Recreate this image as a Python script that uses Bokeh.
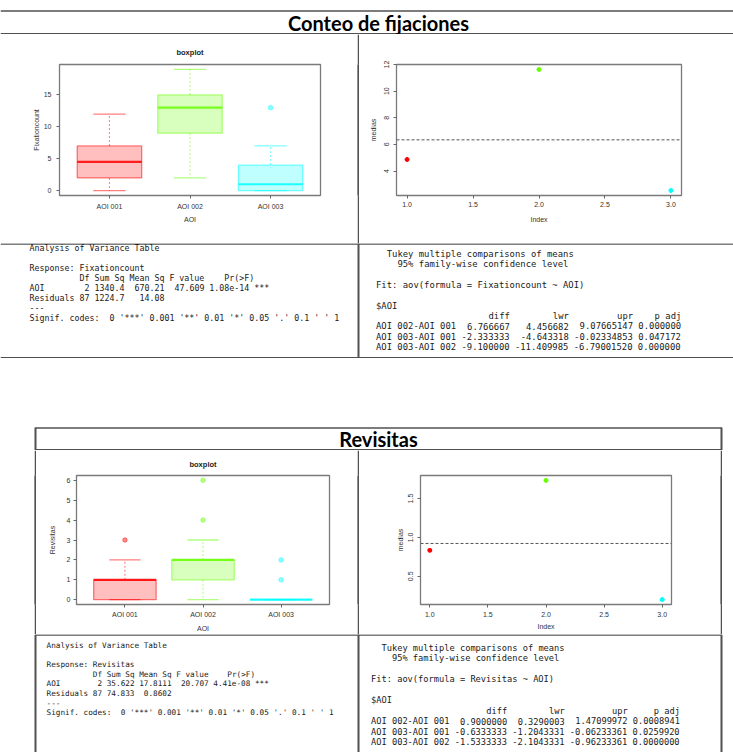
import re
from bokeh.plotting import figure
from bokeh.layouts import row, column
from bokeh.models import Range1d, FixedTicker, Span, Spacer, NumeralTickFormatter
from bokeh.core.properties import value
from bokeh.embed import file_html
from bokeh.resources import INLINE

# ---------------- data ----------------
aoi_labels = ["AOI 001", "AOI 002", "AOI 003"]
aoi_pos = [1, 2, 3]
group_colors = ["#FF0000", "#66FF00", "#00FFFF"]

# Fixationcount boxplot stats
fix_low = [0, 2, 0]
fix_q1 = [2, 9, 0]
fix_med = [4.5, 13, 1]
fix_q3 = [7, 15, 4]
fix_high = [12, 19, 7]
fix_out_x = [3]
fix_out_y = [13]
fix_yticks = [0, 5, 10, 15]

# Revisitas boxplot stats
rev_low = [0, 0, 0]
rev_q1 = [0, 1, 0]
rev_med = [1, 2, 0]
rev_q3 = [1, 2, 0]
rev_high = [2, 3, 0]
rev_out_x = [1, 2, 2, 3, 3]
rev_out_y = [3, 4, 6, 1, 2]
rev_yticks = [0, 1, 2, 3, 4, 5, 6]

# group means plots
index_vals = [1, 2, 3]
index_ticks = [1.0, 1.5, 2.0, 2.5, 3.0]
fix_means = [4.866667, 11.633333, 2.533333]
fix_grand = 6.344444
fix_mean_yticks = [4, 6, 8, 10, 12]
rev_means = [0.833333, 1.733333, 0.2]
rev_grand = 0.922222
rev_mean_yticks = [0.5, 1.0, 1.5]

# console outputs
fix_anova = [
    "Analysis of Variance Table",
    "",
    "Response: Fixationcount",
    "          Df Sum Sq Mean Sq F value    Pr(>F)",
    "AOI        2 1340.4  670.21  47.609 1.08e-14 ***",
    "Residuals 87 1224.7   14.08",
    "---",
    "Signif. codes:  0 '***' 0.001 '**' 0.01 '*' 0.05 '.' 0.1 ' ' 1",
]
fix_tukey = [
    "  Tukey multiple comparisons of means",
    "    95% family-wise confidence level",
    "",
    "Fit: aov(formula = Fixationcount ~ AOI)",
    "",
    "$AOI",
    "                     diff        lwr         upr    p adj",
    "AOI 002-AOI 001  6.766667   4.456682  9.07665147 0.000000",
    "AOI 003-AOI 001 -2.333333  -4.643318 -0.02334853 0.047172",
    "AOI 003-AOI 002 -9.100000 -11.409985 -6.79001520 0.000000",
]
rev_anova = [
    "Analysis of Variance Table",
    "",
    "Response: Revisitas",
    "          Df Sum Sq Mean Sq F value    Pr(>F)",
    "AOI        2 35.622 17.8111  20.707 4.41e-08 ***",
    "Residuals 87 74.833  0.8602",
    "---",
    "Signif. codes:  0 '***' 0.001 '**' 0.01 '*' 0.05 '.' 0.1 ' ' 1",
]
rev_tukey = [
    "  Tukey multiple comparisons of means",
    "    95% family-wise confidence level",
    "",
    "Fit: aov(formula = Revisitas ~ AOI)",
    "",
    "$AOI",
    "                      diff        lwr         upr     p adj",
    "AOI 002-AOI 001  0.9000000  0.3290003  1.47099972 0.0008941",
    "AOI 003-AOI 001 -0.6333333 -1.2043331 -0.06233361 0.0259920",
    "AOI 003-AOI 002 -1.5333333 -2.1043331 -0.96233361 0.0000000",
]

# ---------------- styling helpers ----------------
BORDER = "#505050"
AXC = "#333333"
SANS = "Liberation Sans"
MONO = "DejaVu Sans Mono"


def sheet(x0, x1, y0, y1):
    p = figure(width=x1 - x0, height=y1 - y0, x_range=Range1d(x0, x1),
               y_range=Range1d(y1, y0), toolbar_location=None, output_backend="svg",
               min_border=0, x_axis_location=None, y_axis_location=None,
               outline_line_color=None)
    p.grid.visible = False
    return p


def hline(p, y, x0, x1, w=1.5):
    p.segment(x0=[x0], y0=[y], x1=[x1], y1=[y], line_color=BORDER, line_width=w)


def vline_seg(p, x, y0, y1, w=2):
    p.segment(x0=[x], y0=[y0], x1=[x], y1=[y1], line_color=BORDER, line_width=w)


def console(p, lines, x0, y0, dy, size):
    cw = size * 0.602
    xs, ys, ts = [], [], []
    for i, line in enumerate(lines):
        for m in re.finditer(r"\S+(?: \S+)*", line):
            xs.append(x0 + m.start() * cw)
            ys.append(y0 + i * dy)
            ts.append(m.group())
    p.text(x=xs, y=ys, text=ts, text_font=value(MONO),
           text_font_size=value(f"{size}px"), text_baseline="middle",
           text_align="left", text_color="#1a1a1a")


def vbar_fig(h):
    p = figure(width=2, height=h, x_range=Range1d(0, 1), y_range=Range1d(0, 1),
               toolbar_location=None, output_backend="svg", min_border=0,
               x_axis_location=None, y_axis_location=None, outline_line_color=None,
               background_fill_color=BORDER, border_fill_color=BORDER)
    p.grid.visible = False
    p.quad(left=[0], right=[1], bottom=[0], top=[1], fill_color=BORDER, line_color=None)
    return p


def style_axes(p):
    p.grid.visible = False
    p.outline_line_color = "#7a7a7a"
    p.outline_line_width = 1.3
    p.axis.axis_line_color = None
    p.axis.minor_tick_line_color = None
    p.axis.major_tick_in = 0
    p.axis.major_tick_out = 3
    p.axis.major_tick_line_color = "#666666"
    p.axis.major_label_text_font = SANS
    p.axis.major_label_text_font_size = "7px"
    p.axis.major_label_text_color = AXC
    p.axis.axis_label_text_font = SANS
    p.axis.axis_label_text_font_size = "7px"
    p.axis.axis_label_text_font_style = "normal"
    p.axis.axis_label_text_color = AXC


def boxplot_fig(w, h, lb, fw, tb, fh, low, q1, med, q3, high, ox, oy, yticks,
                ylab, xs_std, xl_std, ys_std, yl_std, title_std):
    ymin = min(low + oy)
    ymax = max(high + oy)
    pad = 0.04 * (ymax - ymin)
    p = figure(width=w, height=h, min_border_left=lb, min_border_right=w - lb - fw,
               min_border_top=tb, min_border_bottom=h - tb - fh,
               x_range=Range1d(0.5 - 0.12, 3.5 + 0.12),
               y_range=Range1d(ymin - pad, ymax + pad),
               toolbar_location=None, output_backend="svg", title="boxplot")
    style_axes(p)
    p.title.align = "center"
    p.title.text_font = SANS
    p.title.text_font_size = "7.5px"
    p.title.text_font_style = "bold"
    p.title.text_color = "#222222"
    p.title.standoff = title_std
    half = 0.4
    p.segment(x0=aoi_pos, y0=q1, x1=aoi_pos, y1=low, line_color=group_colors,
              line_alpha=0.45, line_width=1.2, line_dash="2 2")
    p.segment(x0=aoi_pos, y0=q3, x1=aoi_pos, y1=high, line_color=group_colors,
              line_alpha=0.45, line_width=1.2, line_dash="2 2")
    p.segment(x0=[x - half / 2 for x in aoi_pos], y0=low,
              x1=[x + half / 2 for x in aoi_pos], y1=low,
              line_color=group_colors, line_alpha=0.5, line_width=1.3)
    p.segment(x0=[x - half / 2 for x in aoi_pos], y0=high,
              x1=[x + half / 2 for x in aoi_pos], y1=high,
              line_color=group_colors, line_alpha=0.5, line_width=1.3)
    p.vbar(x=aoi_pos, width=2 * half, bottom=q1, top=q3, fill_color=group_colors,
           fill_alpha=0.25, line_color=group_colors, line_alpha=0.5, line_width=1.3)
    p.segment(x0=[x - half for x in aoi_pos], y0=med,
              x1=[x + half for x in aoi_pos], y1=med,
              line_color=group_colors, line_alpha=0.85, line_width=2.2)
    p.scatter(x=ox, y=oy, size=4.5, fill_color=[group_colors[x - 1] for x in ox],
              fill_alpha=0.45, line_color=[group_colors[x - 1] for x in ox],
              line_alpha=0.45)
    p.xaxis.ticker = FixedTicker(ticks=aoi_pos)
    p.xaxis.major_label_overrides = {x: l for x, l in zip(aoi_pos, aoi_labels)}
    p.xaxis.axis_label = "AOI"
    p.xaxis.major_label_standoff = xs_std
    p.xaxis.axis_label_standoff = xl_std
    p.yaxis.ticker = FixedTicker(ticks=yticks)
    p.yaxis.axis_label = ylab
    p.yaxis.major_label_standoff = ys_std
    p.yaxis.axis_label_standoff = yl_std
    return p


def means_fig(w, h, lb, fw, tb, fh, means, grand, yticks, yfmt,
              xs_std, xl_std, ys_std, yl_std):
    ymin, ymax = min(means), max(means)
    pad = 0.041 * (ymax - ymin)
    p = figure(width=w, height=h, min_border_left=lb, min_border_right=w - lb - fw,
               min_border_top=tb, min_border_bottom=h - tb - fh,
               x_range=Range1d(1 - 0.08, 3 + 0.08),
               y_range=Range1d(ymin - pad, ymax + pad),
               toolbar_location=None, output_backend="svg")
    style_axes(p)
    p.add_layout(Span(location=grand, dimension="width", line_color="#555555",
                      line_width=1, line_dash="3 2"))
    p.scatter(x=index_vals, y=means, size=4, fill_color=group_colors,
              line_color=group_colors)
    p.xaxis.ticker = FixedTicker(ticks=index_ticks)
    p.xaxis.formatter = NumeralTickFormatter(format="0.0")
    p.xaxis.axis_label = "Index"
    p.xaxis.major_label_standoff = xs_std
    p.xaxis.axis_label_standoff = xl_std
    p.yaxis.ticker = FixedTicker(ticks=yticks)
    p.yaxis.formatter = NumeralTickFormatter(format=yfmt)
    p.yaxis.major_label_orientation = "vertical"
    p.yaxis.axis_label = "medias"
    p.yaxis.major_label_standoff = ys_std
    p.yaxis.axis_label_standoff = yl_std
    return p


# ---------------- page pieces (page pixel coordinates, origin at 0,0) ----------------
X0, X1 = 0, 733
TITLE_FONT = "Lato"

# header of table 1
h1 = sheet(X0, X1, 0, 34)
hline(h1, 10.5, X0, X1)
hline(h1, 33.2, X0, X1)
h1.text(x=[378], y=[22], text=["Conteo de fijaciones"], text_font=value(TITLE_FONT),
        text_font_style="bold", text_font_size=value("20px"), text_align="center",
        text_baseline="middle", text_color="#000000")

# plots of table 1
bp1 = boxplot_fig(357, 209, 59, 261, 27, 134, fix_low, fix_q1, fix_med, fix_q3,
                  fix_high, fix_out_x, fix_out_y, fix_yticks, "Fixationcount",
                  4, 3, 5, 1, 16)
sc1 = means_fig(374, 209, 37, 285, 30, 146, fix_means, fix_grand, fix_mean_yticks,
                "0", 3, 6, 4, 5)
row1 = row(bp1, vbar_fig(209), sc1, spacing=0)

# console of table 1
t1 = sheet(X0, X1, 243, 358)
hline(t1, 243.6, X0, X1)
hline(t1, 357.2, X0, X1)
vline_seg(t1, 358, 243, 357)
console(t1, fix_anova, 29, 247, 10, 8.3)
console(t1, fix_tukey, 375.5, 253, 10.4, 8.9)

# header of table 2
h2 = sheet(X0, X1, 358, 450)
hline(h2, 427.5, 35, 721)
hline(h2, 449.2, 35, 721)
vline_seg(h2, 35, 427, 450)
vline_seg(h2, 721, 427, 450)
h2.text(x=[378], y=[438], text=["Revisitas"], text_font=value(TITLE_FONT),
        text_font_style="bold", text_font_size=value("20px"), text_align="center",
        text_baseline="middle", text_color="#000000")

# plots of table 2
bp2 = boxplot_fig(321, 184, 40, 253, 25, 130, rev_low, rev_q1, rev_med, rev_q3,
                  rev_high, rev_out_x, rev_out_y, rev_yticks, "Revisitas",
                  3, 4, 3, 8, 14)
sc2 = means_fig(361, 184, 61, 251, 25, 129, rev_means, rev_grand, rev_mean_yticks,
                "0.0", 4, 3, 4, 2)
row2 = row(Spacer(width=34, height=184), vbar_fig(184), bp2, vbar_fig(184), sc2,
           vbar_fig(184), Spacer(width=11, height=184), spacing=0)

# console of table 2
t2 = sheet(X0, X1, 634, 752)
hline(t2, 634.6, 35, 721)
vline_seg(t2, 35, 634, 752)
vline_seg(t2, 358, 634, 752)
vline_seg(t2, 721, 634, 752)
console(t2, rev_anova, 46, 645, 9.5, 7.7)
console(t2, rev_tukey, 370.5, 647, 10.5, 8.7)

page = column(h1, row1, t1, h2, row2, t2, spacing=0)

open("out.html", "w").write(file_html(page, INLINE))
